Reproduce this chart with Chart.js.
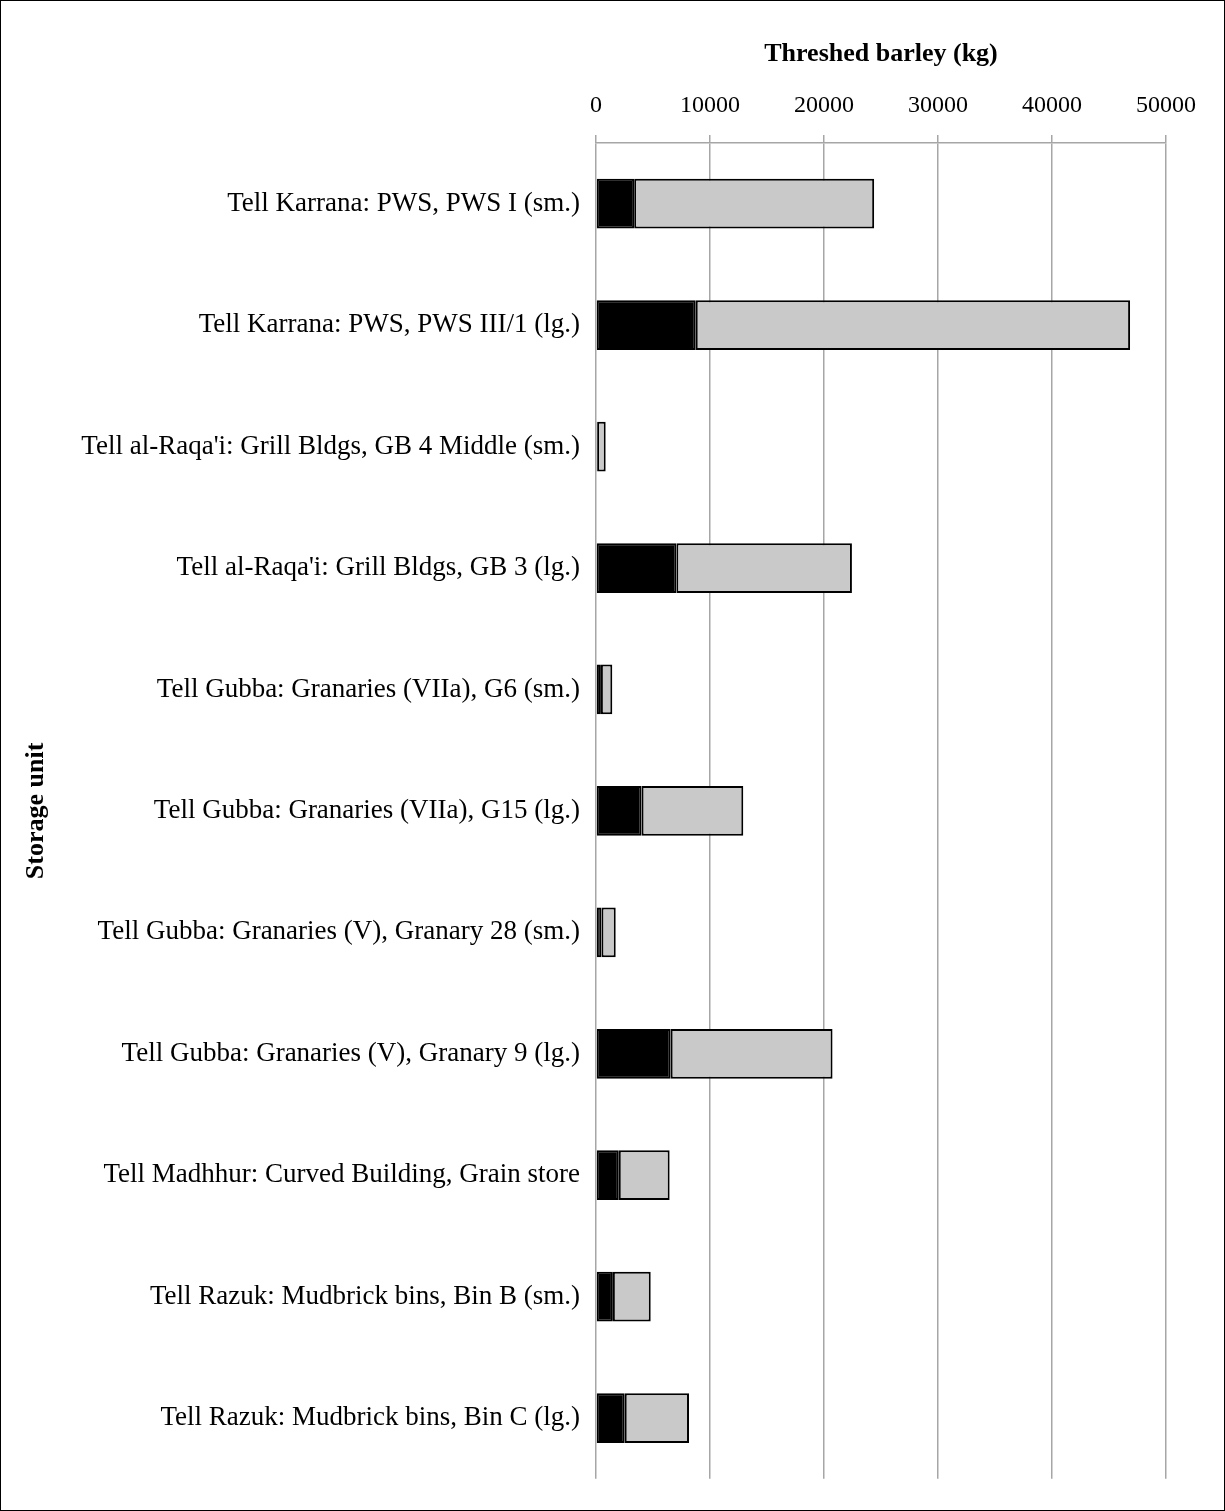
<!DOCTYPE html>
<html lang="en">
<head>
    <meta charset="UTF-8">
    <title>Threshed barley by storage unit</title>
    <script src="https://cdn.jsdelivr.net/npm/chart.js"></script>
    <style>
        body {
            margin: 0;
            background: #fff;
        }

        .chart-container {
            width: 1225px;
            height: 1511px;
            position: relative;
        }
    </style>
</head>
<body>
    <div class="chart-container">
        <canvas id="myChart"></canvas>
    </div>

    <script>
        const storageUnits = [
            'Tell Karrana: PWS, PWS I (sm.)',
            'Tell Karrana: PWS, PWS III/1 (lg.)',
            "Tell al-Raqa'i: Grill Bldgs, GB 4 Middle (sm.)",
            "Tell al-Raqa'i: Grill Bldgs, GB 3 (lg.)",
            'Tell Gubba: Granaries (VIIa), G6 (sm.)',
            'Tell Gubba: Granaries (VIIa), G15 (lg.)',
            'Tell Gubba: Granaries (V), Granary 28 (sm.)',
            'Tell Gubba: Granaries (V), Granary 9 (lg.)',
            'Tell Madhhur: Curved Building, Grain store',
            'Tell Razuk: Mudbrick bins, Bin B (sm.)',
            'Tell Razuk: Mudbrick bins, Bin C (lg.)'
        ];

        // black segment
        const firstPart = [3350, 8750, 100, 7050, 430, 4000, 480, 6550, 2000, 1480, 2520];
        // grey segment (stacked on top)
        const secondPart = [21050, 38100, 750, 15400, 1000, 8920, 1250, 14200, 4460, 3320, 5640];

        const xTicks = [0, 10000, 20000, 30000, 40000, 50000];

        const serif = "'Liberation Serif', 'Times New Roman', serif";

        const pageBorder = {
            id: 'pageBorder',
            afterDraw(chart) {
                const ctx = chart.ctx;
                ctx.save();
                ctx.strokeStyle = '#000';
                ctx.lineWidth = 1;
                ctx.strokeRect(0.5, 0.5, chart.width - 1, chart.height - 1);
                ctx.restore();
            }
        };

        const ctx = document.getElementById('myChart').getContext('2d');
        new Chart(ctx, {
            type: 'bar',
            data: {
                labels: storageUnits,
                datasets: [{
                    label: 'Part 1',
                    data: firstPart,
                    backgroundColor: '#000000',
                    borderColor: '#000000',
                    borderWidth: 2,
                    borderSkipped: false,
                    barPercentage: 0.41,
                    categoryPercentage: 1
                }, {
                    label: 'Part 2',
                    data: secondPart,
                    backgroundColor: '#c9c9c9',
                    borderColor: '#000000',
                    borderWidth: 2,
                    borderSkipped: false,
                    barPercentage: 0.41,
                    categoryPercentage: 1
                }]
            },
            options: {
                indexAxis: 'y',
                responsive: true,
                maintainAspectRatio: false,
                animation: false,
                layout: {
                    padding: { top: 0, left: 0, right: 59, bottom: 26 }
                },
                plugins: {
                    legend: { display: false },
                    tooltip: { enabled: false }
                },
                scales: {
                    x: {
                        position: 'top',
                        stacked: true,
                        min: 0,
                        max: 50000,
                        afterBuildTicks(scale) {
                            scale.ticks = xTicks.map(v => ({ value: v }));
                        },
                        afterFit(scale) {
                            scale.height = 143;
                        },
                        grid: {
                            color: '#a6a6a6',
                            lineWidth: 1.5,
                            tickLength: 8
                        },
                        border: { color: '#a6a6a6', width: 1.5 },
                        ticks: {
                            color: '#000',
                            padding: 15,
                            maxRotation: 0,
                            callback: v => String(v),
                            font: { family: serif, size: 24 }
                        },
                        title: {
                            display: true,
                            text: 'Threshed barley (kg)',
                            color: '#000',
                            padding: { top: 39, bottom: 0 },
                            font: { family: serif, size: 26, weight: 'bold' }
                        }
                    },
                    y: {
                        stacked: true,
                        afterFit(scale) {
                            scale.width = 596;
                        },
                        grid: { display: false, drawTicks: false },
                        border: { display: false },
                        ticks: {
                            color: '#000',
                            padding: 16,
                            autoSkip: false,
                            font: { family: serif, size: 27 }
                        },
                        title: {
                            display: true,
                            text: 'Storage unit',
                            color: '#000',
                            padding: { top: 21, bottom: 0 },
                            font: { family: serif, size: 26, weight: 'bold' }
                        }
                    }
                }
            },
            plugins: [pageBorder]
        });
    </script>
</body>
</html>
